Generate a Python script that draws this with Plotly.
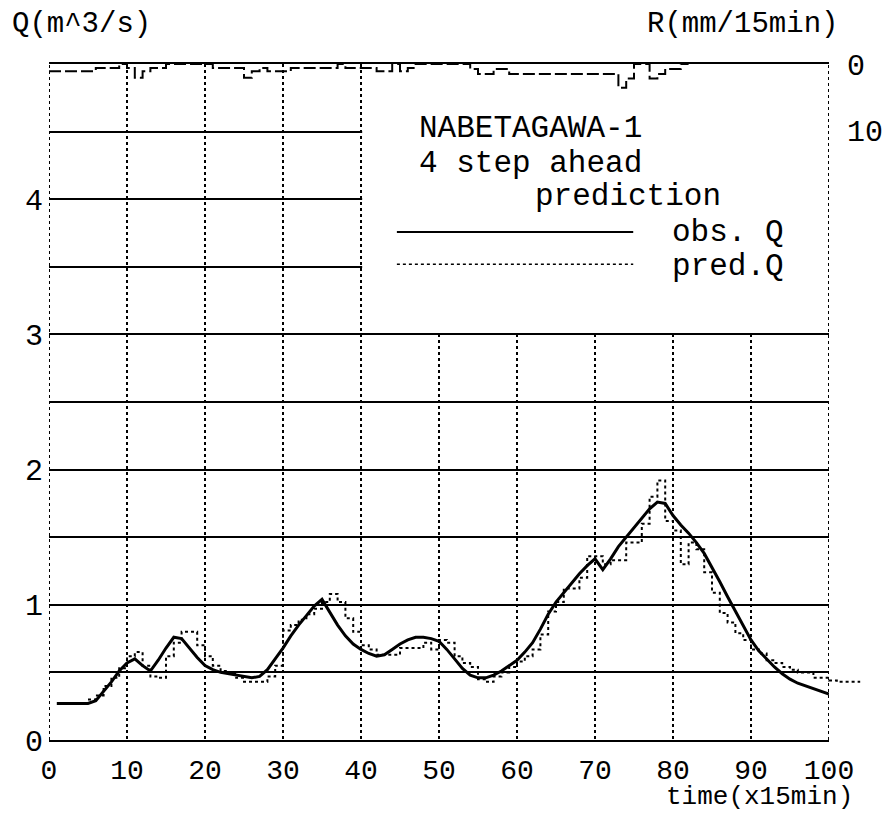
import plotly.graph_objects as go

# ---------------- data ----------------
obs_t = list(range(1, 101))
obs_q = [0.27, 0.27, 0.27, 0.27, 0.27, 0.29, 0.36, 0.43, 0.51, 0.57,
         0.60, 0.55, 0.51, 0.59, 0.68, 0.76, 0.75, 0.68, 0.61, 0.55,
         0.52, 0.50, 0.49, 0.48, 0.47, 0.46, 0.47, 0.52, 0.60, 0.68,
         0.77, 0.85, 0.92, 0.99, 1.04, 0.94, 0.85, 0.77, 0.71, 0.67,
         0.64, 0.62, 0.63, 0.67, 0.71, 0.74, 0.76, 0.76, 0.75, 0.73,
         0.67, 0.60, 0.53, 0.48, 0.46, 0.46, 0.48, 0.51, 0.55, 0.59,
         0.65, 0.72, 0.82, 0.93, 1.02, 1.09, 1.16, 1.23, 1.29, 1.34,
         1.26, 1.34, 1.43, 1.50, 1.57, 1.64, 1.71, 1.76, 1.75, 1.66,
         1.59, 1.53, 1.46, 1.38, 1.28, 1.17, 1.06, 0.95, 0.84, 0.74,
         0.66, 0.60, 0.54, 0.49, 0.45, 0.42, 0.40, 0.38, 0.36, 0.34]

pred_t = list(range(5, 105))
pred_q = [0.30, 0.33, 0.40, 0.46, 0.53, 0.62, 0.65, 0.55, 0.47, 0.46,
          0.62, 0.72, 0.80, 0.80, 0.70, 0.62, 0.55, 0.51, 0.49, 0.46,
          0.43, 0.43, 0.43, 0.47, 0.55, 0.81, 0.85, 0.89, 0.93, 0.97,
          1.02, 1.08, 1.02, 0.90, 0.80, 0.70, 0.67, 0.63, 0.63, 0.63,
          0.68, 0.68, 0.68, 0.72, 0.67, 0.74, 0.72, 0.62, 0.57, 0.54,
          0.45, 0.43, 0.47, 0.50, 0.54, 0.58, 0.62, 0.67, 0.78, 0.95,
          1.02, 1.12, 1.12, 1.20, 1.36, 1.36, 1.30, 1.33, 1.33, 1.46,
          1.46, 1.60, 1.80, 1.92, 1.62, 1.55, 1.30, 1.46, 1.41, 1.24,
          1.09, 0.94, 0.87, 0.79, 0.74, 0.67, 0.64, 0.59, 0.57, 0.54,
          0.52, 0.50, 0.50, 0.46, 0.46, 0.44, 0.43, 0.43, 0.43, 0.43]

rain_t = list(range(0, 83))
rain_mm = [1.1, 1.1, 1.1, 1.1, 1.1, 1.1, 0.6, 0.6, 0.6, 0.0,
           0.6, 2.1, 1.1, 0.6, 0.6, 0.0, 0.0, 0.0, 0.0, 0.0,
           0.0, 0.6, 0.6, 0.6, 0.6, 2.1, 1.1, 0.6, 1.1, 1.1,
           1.1, 0.6, 0.6, 0.6, 0.6, 0.6, 0.6, 0.0, 0.6, 0.6,
           0.6, 0.6, 1.1, 1.1, 0.0, 1.1, 0.6, 0.0, 0.0, 0.0,
           0.0, 0.0, 0.0, 0.0, 0.75, 1.5, 1.5, 0.75, 0.75, 1.5,
           1.5, 1.5, 1.5, 1.5, 1.5, 1.5, 1.5, 1.5, 1.5, 1.5,
           1.5, 1.5, 1.5, 3.6, 2.2, 0.0, 0.0, 2.2, 1.5, 0.75,
           0.75, 0.0, 0.0]

x_ticks = list(range(0, 101, 10))
q_ticks = [0, 0.5, 1, 1.5, 2, 2.5, 3, 3.5, 4, 4.5, 5]
q_ticktext = ["0", "", "1", "", "2", "", "3", "", "4", "", ""]
r_ticks = [0, 10]

# ---------------- layout geometry ----------------
# The page body has an 8px margin, so the figure is 16px smaller than the window
OFF = 8
W, H = 890 - 2 * OFF, 822 - 2 * OFF
PLOT_L, PLOT_R_MAIN, PLOT_R_EXT = 49, 829, 865   # page pixels
PLOT_T, PLOT_B = 64, 740
ML = PLOT_L - OFF
MR = W - (PLOT_R_EXT - OFF)
MT = PLOT_T - OFF
MB = H - (PLOT_B - OFF)
PW = PLOT_R_EXT - PLOT_L
MAINW = PLOT_R_MAIN - PLOT_L
PH = PLOT_B - PLOT_T
X2MAX = 100 * PW / MAINW  # extended x axis so prediction can run past t=100
R_MAX = PH / 6.6          # R axis: 6.6 px per mm


def px(xp):
    return (xp - PLOT_L) / PW


def py(yp):
    return (PLOT_B - yp) / PH


FONT = "Liberation Mono, Courier New, monospace"

fig = go.Figure()
fig.add_trace(go.Scatter(x=rain_t, y=rain_mm, xaxis="x", yaxis="y2",
                         mode="lines", line=dict(color="black", width=2, dash="12px,4px", shape="hv"),
                         name="R", hoverinfo="skip"))
fig.add_trace(go.Scatter(x=obs_t, y=obs_q, xaxis="x", yaxis="y",
                         mode="lines", line=dict(color="black", width=3),
                         name="obs. Q"))
fig.add_trace(go.Scatter(x=pred_t, y=pred_q, xaxis="x2", yaxis="y3",
                         mode="lines", line=dict(color="black", width=2, dash="dot", shape="hv"),
                         name="pred.Q"))

fig.update_layout(
    width=W, height=H,
    margin=dict(l=ML, r=MR, t=MT, b=MB, pad=0, autoexpand=False),
    paper_bgcolor="white", plot_bgcolor="rgba(0,0,0,0)",
    showlegend=False,
    font=dict(family=FONT, size=28, color="black"),
    xaxis=dict(domain=[0, MAINW / PW], range=[0, 100], anchor="y", automargin=False,
               tickmode="array", tickvals=x_ticks,
               showgrid=True, gridcolor="black", gridwidth=2, griddash="dot",
               zeroline=False, showline=True, mirror=True, linecolor="black", linewidth=2,
               ticks="", ticklabelstandoff=3, tickfont=dict(size=28)),
    xaxis2=dict(domain=[0, 1], range=[0, X2MAX], anchor="y3", visible=False, automargin=False),
    yaxis=dict(domain=[0, 1], range=[0, 5], anchor="x", automargin=False,
               tickmode="array", tickvals=q_ticks, ticktext=q_ticktext,
               showgrid=True, gridcolor="black", gridwidth=2,
               zeroline=False, showline=False, ticks="", ticklabelstandoff=5,
               tickfont=dict(size=30)),
    yaxis2=dict(overlaying="y", side="right", range=[R_MAX, 0], anchor="x", automargin=False,
                tickmode="array", tickvals=r_ticks, showgrid=False, zeroline=False,
                showline=False, ticks="", ticklabelstandoff=17, tickfont=dict(size=30)),
    yaxis3=dict(domain=[0, 1], range=[0, 5], anchor="x2", visible=False, automargin=False),
)

# blank legend panel (covers grid in upper right)
fig.add_shape(type="rect", xref="x", yref="y", x0=40.15, x1=100, y0=3.01, y1=5,
              fillcolor="white", line=dict(width=0), layer="between")
# dotted frame sides (left and right borders)
for xb in [0, 100]:
    fig.add_shape(type="line", xref="x", yref="y", x0=xb, x1=xb, y0=0, y1=5,
                  line=dict(color="black", width=2, dash="dot"), layer="above")
# legend sample lines
fig.add_shape(type="line", xref="x", yref="y", x0=44.6, x1=74.9, y0=3.758, y1=3.758,
              line=dict(color="black", width=2))
fig.add_shape(type="line", xref="x", yref="y", x0=44.6, x1=74.9, y0=3.519, y1=3.519,
              line=dict(color="black", width=1.5, dash="dot"))

LF = dict(family=FONT, size=31, color="black")
for txt, x, y in [("NABETAGAWA-1", 47.2, 4.526), ("4 step ahead", 47.2, 4.267),
                  ("prediction", 62.05, 4.02), ("obs. Q", 79.6, 3.756), ("pred.Q", 79.6, 3.50)]:
    fig.add_annotation(text=txt, x=x, y=y, xref="x", yref="y", xanchor="left", yanchor="middle",
                       showarrow=False, font=LF)

TF = dict(family=FONT, size=29, color="black")
fig.add_annotation(text="Q(m^3/s)", x=px(10), y=py(25), xref="paper", yref="paper",
                   xanchor="left", yanchor="middle", showarrow=False, font=TF)
fig.add_annotation(text="R(mm/15min)", x=px(840), y=py(25), xref="paper", yref="paper",
                   xanchor="right", yanchor="middle", showarrow=False, font=TF)
fig.add_annotation(text="time(x15min)", x=px(855), y=py(H + OFF), xref="paper", yref="paper",
                   xanchor="right", yanchor="bottom", showarrow=False,
                   font=dict(family=FONT, size=26, color="black"))

fig.write_html("out.html")
